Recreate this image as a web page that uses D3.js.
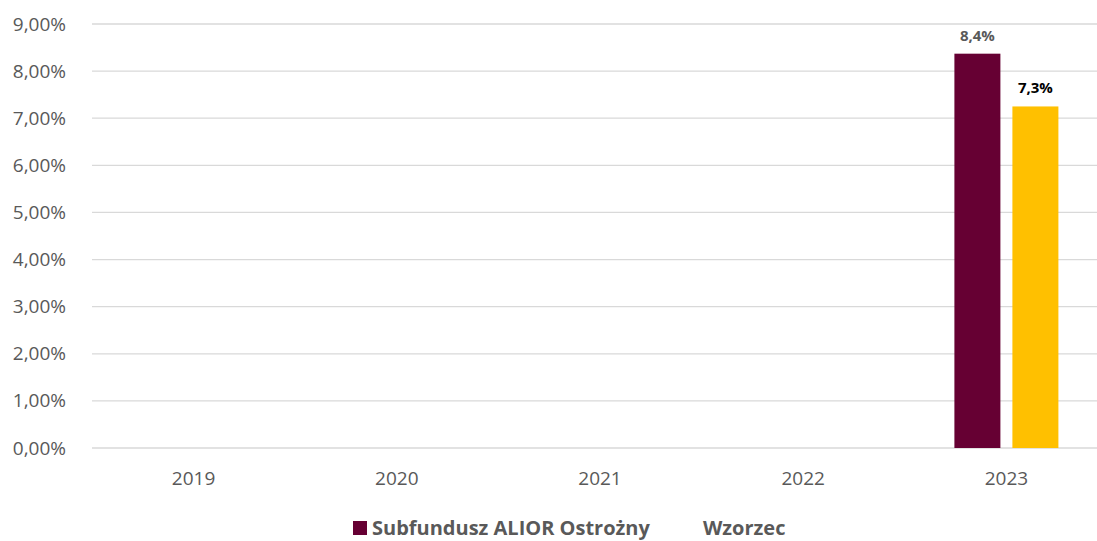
<!DOCTYPE html>
<html lang="pl">
  <head>
    <meta charset="UTF-8" />
    <script src="https://d3js.org/d3.v7.min.js"></script>
    <style>
      body { margin: 0; background: #fff; }
      text { font-family: "Open Sans", "Liberation Sans", sans-serif; }
    </style>
  </head>
  <body>
    <div id="chart"></div>
    <script>
      // data
      const years = ["2019", "2020", "2021", "2022", "2023"];
      const fundValues = [null, null, null, null, 8.37];
      const benchmarkValues = [null, null, null, null, 7.25];
      const seriesNames = ["Subfundusz ALIOR Ostrożny", "Wzorzec"];
      const yTicks = [0, 1, 2, 3, 4, 5, 6, 7, 8, 9];

      const W = 1097, H = 541;
      const margin = { top: 24, right: -11, bottom: 93, left: 92 };
      const width = W - margin.left - margin.right,
        height = H - margin.top - margin.bottom;

      const svg = d3
        .select("#chart")
        .append("svg")
        .attr("width", W)
        .attr("height", H);
      const g = svg
        .append("g")
        .attr("transform", `translate(${margin.left}, ${margin.top})`);

      const x = d3.scaleBand().domain(years).range([0, width]);
      const y = d3.scaleLinear().domain([0, 9]).range([height, 0]);
      const fmtAxis = (v) => v.toFixed(2).replace(".", ",") + "%";
      const fmtLabel = (v) => v.toFixed(1).replace(".", ",") + "%";

      // grid lines
      g.selectAll(".grid")
        .data(yTicks)
        .join("line")
        .attr("x1", 0)
        .attr("x2", width)
        .attr("y1", (d) => y(d))
        .attr("y2", (d) => y(d))
        .attr("stroke", "#d9d9d9")
        .attr("stroke-width", 1.3);

      // y axis
      const yAxis = g
        .append("g")
        .attr("transform", "translate(-23,0)")
        .call(d3.axisLeft(y).tickValues(yTicks).tickFormat(fmtAxis).tickSize(0));
      yAxis.select(".domain").remove();
      yAxis
        .selectAll("text")
        .attr("fill", "#595959")
        .style("font-size", "19px")
        .style("font-family", "'Open Sans', sans-serif");

      // x axis
      const xAxis = g
        .append("g")
        .attr("transform", `translate(0, ${height})`)
        .call(d3.axisBottom(x).tickSize(0).tickPadding(24));
      xAxis.select(".domain").remove();
      xAxis
        .selectAll("text")
        .attr("fill", "#595959")
        .style("font-size", "19px")
        .style("font-family", "'Open Sans', sans-serif");

      // bars
      const barW = 46, gap = 12;
      const series = [
        { name: seriesNames[0], values: fundValues, color: "#660033", labelColor: "#595959", off: -(gap / 2 + barW) },
        { name: seriesNames[1], values: benchmarkValues, color: "#FFC000", labelColor: "#000000", off: gap / 2 },
      ];
      series.forEach((s) => {
        const pts = years
          .map((yr, i) => ({ year: yr, value: s.values[i] }))
          .filter((d) => d.value != null);
        g.selectAll(null)
          .data(pts)
          .join("rect")
          .attr("x", (d) => x(d.year) + x.bandwidth() / 2 + s.off)
          .attr("y", (d) => y(d.value))
          .attr("width", barW)
          .attr("height", (d) => y(0) - y(d.value))
          .attr("fill", s.color);
        g.selectAll(null)
          .data(pts)
          .join("text")
          .attr("x", (d) => x(d.year) + x.bandwidth() / 2 + s.off + barW / 2)
          .attr("y", (d) => y(d.value) - 13)
          .attr("text-anchor", "middle")
          .attr("fill", s.labelColor)
          .style("font-size", "15px")
          .style("font-weight", "bold")
          .text((d) => fmtLabel(d.value));
      });

      // legend
      const legend = svg.append("g");
      legend
        .append("rect")
        .attr("x", 353)
        .attr("y", 521)
        .attr("width", 14)
        .attr("height", 14)
        .attr("fill", series[0].color);
      legend
        .append("text")
        .attr("x", 372)
        .attr("y", 535)
        .attr("fill", "#595959")
        .style("font-size", "20px")
        .style("font-weight", "bold")
        .text(seriesNames[0]);
      legend
        .append("text")
        .attr("x", 703)
        .attr("y", 535)
        .attr("fill", "#595959")
        .style("font-size", "20px")
        .style("font-weight", "bold")
        .text(seriesNames[1]);
    </script>
  </body>
</html>
